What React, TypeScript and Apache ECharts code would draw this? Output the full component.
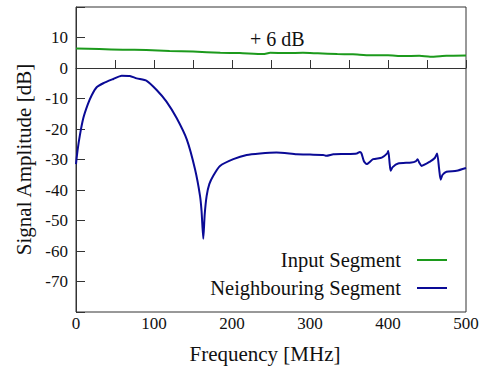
import React, { useEffect, useRef } from "react";
import * as echarts from "echarts";

const inputSegment: [number, number][] = [
  [0, 6.4], [30, 6.2], [60, 6.0], [90, 5.9], [120, 5.6], [150, 5.4], [185, 5.0],
  [210, 4.9], [240, 4.55], [249, 5.0], [270, 4.9], [291, 5.0], [310, 4.8],
  [335, 4.55], [355, 4.5], [377, 4.2], [400, 4.2], [419, 3.9], [440, 4.0],
  [454, 3.7], [475, 4.0], [500, 4.1],
];

const neighbouringSegment: [number, number][] = [
  [0, -31.5], [2, -27], [5, -22], [9.4, -16.4], [15, -12], [20, -9], [26.5, -6.3],
  [35, -5.0], [47.8, -3.6], [58.5, -2.5], [69, -2.6], [77.8, -3.4], [90.6, -4.2],
  [103.4, -7.2], [116, -11], [129, -16.4], [142, -23.4], [152.6, -33.2], [159, -41.9],
  [161, -47], [163.2, -56], [165, -48], [167.5, -41.9], [171, -38], [176, -35.3],
  [184.6, -32.1], [201.7, -29.9], [218.8, -28.5], [235.9, -28], [257, -27.7],
  [283, -28.3], [300, -28.4], [317, -28.5], [321, -28.8], [330, -28.3], [345, -28.2],
  [360, -28], [364, -27.5], [366, -28], [369, -30.5], [372.7, -31.5], [381, -29.9],
  [392, -29.4], [399, -28], [400.4, -27.2], [402, -31], [403.4, -33.7], [406, -32.5],
  [413, -31.3], [430, -31], [436, -30.5], [438, -29.9], [440, -31], [443, -32.1],
  [453.8, -30.7], [460, -29.5], [463, -28], [465.5, -33], [467.5, -36.6], [470, -35],
  [475, -34], [488, -33.7], [500, -32.8],
];

const xTickLabels = ["0", "100", "200", "300", "400", "500"];
const yTickLabels = ["-70", "-60", "-50", "-40", "-30", "-20", "-10", "0", "10"];

const FONT = "'Liberation Serif', 'Times New Roman', serif";

export default function App() {
  const ref = useRef<HTMLDivElement>(null);
  useEffect(() => {
    if (!ref.current) return;
    const chart = echarts.init(ref.current, null, { renderer: "svg" });
    chart.setOption({
      animation: false,
      backgroundColor: "#ffffff",
      textStyle: { fontFamily: FONT },
      grid: {
        left: 76, right: 17, top: 7, bottom: 54,
        show: true, borderColor: "#333", borderWidth: 1,
      },
      legend: {
        orient: "vertical",
        right: 31,
        top: 243,
        align: "right",
        icon: "rect",
        itemWidth: 30,
        itemHeight: 2,
        itemGap: 4,
        data: ["Input Segment", "Neighbouring Segment"],
        textStyle: { fontFamily: FONT, fontSize: 20.5, color: "#111", lineHeight: 24, padding: [0, 11, 0, 0] },
      },
      xAxis: {
        type: "value",
        min: 0, max: 500, interval: 50,
        name: "Frequency [MHz]",
        nameLocation: "middle",
        nameGap: 31,
        nameTextStyle: { fontFamily: FONT, fontSize: 21, color: "#111", padding: [0, 12, 0, 0] },
        axisLine: { lineStyle: { color: "#333", width: 1 } },
        axisTick: { inside: true, length: 8, lineStyle: { color: "#333" } },
        splitLine: { show: false },
        axisLabel: {
          fontFamily: FONT, fontSize: 17, color: "#111", margin: 3,
          formatter: (v: number) => (xTickLabels.includes(String(v)) ? String(v) : ""),
        },
      },
      yAxis: {
        type: "value",
        min: -80, max: 20, interval: 10,
        name: "Signal Amplitude [dB]",
        nameLocation: "middle",
        nameGap: 42,
        nameTextStyle: { fontFamily: FONT, fontSize: 21, color: "#111" },
        axisLine: { lineStyle: { color: "#333", width: 1 } },
        axisTick: { inside: true, length: 9, lineStyle: { color: "#333" } },
        splitLine: { show: false },
        axisLabel: {
          fontFamily: FONT, fontSize: 17, color: "#111", margin: 8,
          formatter: (v: number) => (yTickLabels.includes(String(v)) ? String(v) : ""),
        },
      },
      graphic: [
        {
          type: "text", left: 250, top: 29,
          style: { text: "+ 6 dB", fontFamily: FONT, fontSize: 20, fill: "#111" },
        },
      ],
      series: [
        {
          name: "Input Segment", type: "line", data: inputSegment,
          symbol: "none", smooth: 0.2, lineStyle: { color: "#1c9a1c", width: 2 },
          itemStyle: { color: "#1c9a1c" },
        },
        {
          name: "Neighbouring Segment", type: "line", data: neighbouringSegment,
          symbol: "none", smooth: 0.2, lineStyle: { color: "#0a0a96", width: 2 },
          itemStyle: { color: "#0a0a96" },
        },
      ],
    });
    return () => chart.dispose();
  }, []);
  return <div ref={ref} style={{ width: 483, height: 369, position: "absolute", left: 0, top: 0 }} />;
}
